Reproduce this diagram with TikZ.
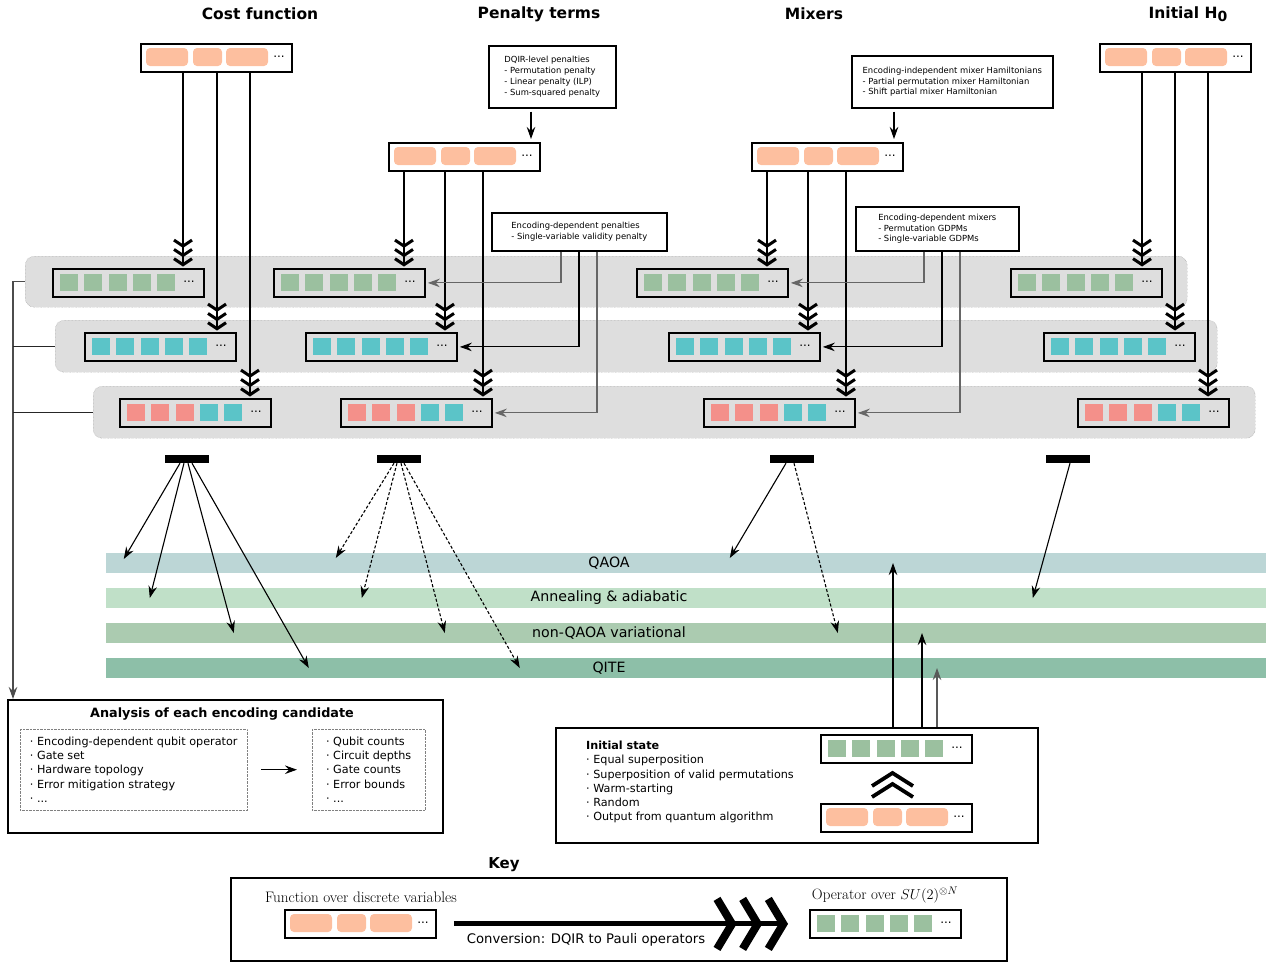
\documentclass[tikz,border=0pt]{standalone}
\usepackage{fontspec}
\setsansfont{DejaVu Sans}
\renewcommand*{\familydefault}{\sfdefault}
\usetikzlibrary{arrows.meta}
\definecolor{orng}{RGB}{253,191,159}
\definecolor{sqgrn}{RGB}{155,192,159}
\definecolor{sqteal}{RGB}{91,196,200}
\definecolor{sqred}{RGB}{244,144,138}
\definecolor{bandgray}{RGB}{222,222,222}
\definecolor{cqaoa}{RGB}{188,214,214}
\definecolor{canneal}{RGB}{192,224,200}
\definecolor{cvar}{RGB}{171,203,176}
\definecolor{cqite}{RGB}{141,191,168}

\tikzset{
  regbox/.style={draw, line width=1.8pt, minimum width=151pt, minimum height=28pt, inner sep=0pt, anchor=north west},
  regdots/.style={font=\fontsize{12}{12}\selectfont, inner sep=0pt},
  grayband/.style={fill=bandgray, draw=black!45, densely dotted, rounded corners=9pt, anchor=north west, minimum width=1162pt, minimum height=51pt, inner sep=0pt},
  algband/.style={minimum width=1160pt, minimum height=20pt, inner sep=0pt},
  algtext/.style={font=\fontsize{14.2}{14}\selectfont},
  txtbox/.style={draw, line width=1.6pt, align=left, font=\fontsize{8.4}{10.8}\selectfont, anchor=north west, inner sep=0pt},
  dotbox/.style={draw=black!50, densely dotted, align=left, font=\fontsize{11.2}{14.3}\selectfont, anchor=north west, inner sep=0pt},
  bigbox/.style={draw, line width=1.8pt, anchor=north west, inner sep=0pt},
  coltitle/.style={font=\fontsize{15.5}{18}\selectfont\bfseries},
  selbar/.style={fill=black, minimum width=44pt, minimum height=8pt, inner sep=0pt},
  arr/.style={line width=1.1pt, -{Stealth[length=12pt,width=8.5pt,inset=4pt]}},
  darr/.style={arr, dash pattern=on 3pt off 2pt},
  chev3/.style={line width=1.3pt, shorten >=1.5pt,
    -{Straight Barb[length=6pt,width=18pt,line width=3pt,sep=0pt]
      Straight Barb[length=6pt,width=18pt,line width=3pt,sep=0pt]
      Straight Barb[length=6pt,width=18pt,line width=3pt]}},
  bigchev/.style={line width=5pt,
    -{Straight Barb[length=15pt,width=50pt,line width=8pt,sep=2pt]
      Straight Barb[length=15pt,width=50pt,line width=8pt,sep=2pt]
      Straight Barb[length=15pt,width=50pt,line width=8pt]}},
}

% registre de qubits : nom, x, y (coin haut gauche), couleurs
\newcommand{\qreg}[4]{%
  \node[regbox] (#1) at (#2,#3) {};
  \foreach \col [count=\i from 0] in {#4}
    {\fill[fill=\col] (#2+8+24.3*\i,#3+6) rectangle ++(18,17);}
  \node[regdots] at (#2+137,#3+14) {...};
}
% fonction DQIR : nom, x, y
\newcommand{\dqir}[3]{%
  \node[regbox] (#1) at (#2,#3) {};
  \fill[orng, rounded corners=4pt] (#2+6,#3+5) rectangle ++(42,18);
  \fill[orng, rounded corners=4pt] (#2+53,#3+5) rectangle ++(29,18);
  \fill[orng, rounded corners=4pt] (#2+86,#3+5) rectangle ++(42,18);
  \node[regdots] at (#2+139,#3+14) {...};
}

\begin{document}
\begin{tikzpicture}[x=1pt, y=-1pt]
	\useasboundingbox (0,0) rectangle (1274,962);

	% titres
	\node[coltitle] at (260,14) {Cost function};
	\node[coltitle] at (539,14) {Penalty terms};
	\node[coltitle] at (814,14) {Mixers};
	\node[coltitle] at (1188,14) {Initial H\raisebox{-3.5pt}{\fontsize{14}{14}\selectfont 0}};

	% bandes grises
	\node[grayband] (b1) at (25,256) {};
	\node[grayband, minimum height=52pt] (b2) at (55,320) {};
	\node[grayband, minimum height=52pt] (b3) at (93,386) {};

	% fonctions
	\dqir{fcost}{140}{43}
	\dqir{fpen}{388}{142}
	\dqir{fmix}{751}{142}
	\dqir{fini}{1099}{43}

	% registres
	\foreach \nm/\x in {cost/52, pen/273, mix/636, ini/1010}
		{\qreg{r1\nm}{\x}{268}{sqgrn,sqgrn,sqgrn,sqgrn,sqgrn}}
	\foreach \nm/\x in {cost/84, pen/305, mix/668, ini/1043}
		{\qreg{r2\nm}{\x}{332}{sqteal,sqteal,sqteal,sqteal,sqteal}}
	\foreach \nm/\x in {cost/119, pen/340, mix/703, ini/1077}
		{\qreg{r3\nm}{\x}{398}{sqred,sqred,sqred,sqteal,sqteal}}

	% boites de texte
	\node[txtbox, minimum width=127pt, minimum height=62pt] (tpen) at (488,45)
		{DQIR-level penalties\\- Permutation penalty\\- Linear penalty (ILP)\\- Sum-squared penalty};
	\node[txtbox, minimum width=201pt, minimum height=52pt] (tmix) at (851,55)
		{Encoding-independent mixer Hamiltonians\\- Partial permutation mixer Hamiltonian\\- Shift partial mixer Hamiltonian};
	\node[txtbox, minimum width=175pt, minimum height=38pt] (tedp) at (491,212)
		{Encoding-dependent penalties\\- Single-variable validity penalty};
	\node[txtbox, minimum width=163pt, minimum height=44pt] (tedm) at (855,206)
		{Encoding-dependent mixers\\- Permutation GDPMs\\- Single-variable GDPMs};

	\draw[arr, shorten <=3pt, shorten >=3pt] ([xshift=43pt]tpen.south west) -- ([xshift=43pt]tpen.south west |- fpen.north);
	\draw[arr, shorten <=3pt, shorten >=3pt] ([xshift=43pt]tmix.south west) -- ([xshift=43pt]tmix.south west |- fmix.north);

	% conversions
	\foreach \f/\dx/\r in {cost/43/r1cost, cost/77/r2cost, cost/110/r3cost,
		pen/16/r1pen, pen/57/r2pen, pen/95/r3pen,
		mix/16/r1mix, mix/57/r2mix, mix/95/r3mix,
		ini/43/r1ini, ini/76/r2ini, ini/109/r3ini}
		\draw[chev3] ([xshift=\dx pt]f\f.south west) -- ([xshift=\dx pt]f\f.south west |- \r.north);

	\foreach \t/\dx/\r/\c in {tedp/70/r1pen/black!60, tedp/88/r2pen/black, tedp/106/r3pen/black!60,
		tedm/69/r1mix/black!60, tedm/87/r2mix/black, tedm/105/r3mix/black!60}
		\draw[arr, \c, shorten >=2pt] ([xshift=\dx pt]\t.south west) |- (\r.east);

	% barres de selection
	\node[selbar] (s1) at (187,459) {};
	\node[selbar] (s2) at (399,459) {};
	\node[selbar] (s3) at (792,459) {};
	\node[selbar] (s4) at (1068,459) {};

	% algorithmes
	\node[algband, fill=cqaoa] (qaoa) at (686,563) {};
	\node[algband, fill=canneal] (anneal) at (686,598) {};
	\node[algband, fill=cvar] (nonq) at (686,633) {};
	\node[algband, fill=cqite] (qite) at (686,668) {};
	\node[algtext] at (609,563) {QAOA};
	\node[algtext] at (609,598) {Annealing \& adiabatic};
	\node[algtext] at (609,633) {non-QAOA variational};
	\node[algtext] at (609,668) {QITE};

	\draw[arr] ([xshift=-7pt]s1.south) -- ([xshift=18pt,yshift=4pt]qaoa.west);
	\draw[arr] ([xshift=-3pt]s1.south) -- ([xshift=44pt]anneal.west);
	\draw[arr] ([xshift=1pt]s1.south) -- ([xshift=128pt]nonq.west);
	\draw[arr] ([xshift=5pt]s1.south) -- ([xshift=203pt]qite.west);

	\draw[darr] ([xshift=-5pt]s2.south) -- ([xshift=230pt,yshift=5pt]qaoa.west);
	\draw[darr] ([xshift=-2pt]s2.south) -- ([xshift=256pt]anneal.west);
	\draw[darr] ([xshift=2pt]s2.south) -- ([xshift=339pt]nonq.west);
	\draw[darr] ([xshift=5pt]s2.south) -- ([xshift=414pt]qite.west);

	\draw[arr] ([xshift=-6pt]s3.south) -- ([xshift=624pt,yshift=5pt]qaoa.west);
	\draw[darr] ([xshift=2pt]s3.south) -- ([xshift=732pt]nonq.west);

	\draw[arr] ([xshift=2pt]s4.south) -- ([xshift=927pt]anneal.west);

	% analyse
	\node[bigbox, minimum width=435pt, minimum height=133pt] (an) at (7,699) {};
	\node[font=\fontsize{12.8}{14}\selectfont\bfseries] at (222,714) {Analysis of each encoding candidate};
	\node[dotbox, minimum width=227pt, minimum height=81pt] (anin) at (20,729)
		{· Encoding-dependent qubit operator\\· Gate set\\· Hardware topology\\· Error mitigation strategy\\· ...};
	\node[dotbox, minimum width=113pt, minimum height=81pt] (anout) at (312,729)
		{· Qubit counts\\· Circuit depths\\· Gate counts\\· Error bounds\\· ...};
	\draw[arr, shorten <=14pt, shorten >=15pt] (anin.east) -- (anout.west);

	\coordinate (brk) at (13,0);
	\draw[arr, black!70] (b1.west) -| (brk |- an.north);
	\draw[line width=1.1pt, black!85] (b2.west) -- (brk |- b2.west);
	\draw[line width=1.1pt, black!85] (b3.west) -- (brk |- b3.west);

	% etat initial
	\node[bigbox, minimum width=482pt, minimum height=115pt] (is) at (555,727) {};
	\node[align=left, anchor=west, inner sep=0pt, font=\fontsize{11.2}{14.2}\selectfont] (istxt) at (586,782)
		{\textbf{Initial state}\\· Equal superposition\\· Superposition of valid permutations\\· Warm-starting\\· Random\\· Output from quantum algorithm};
	\qreg{isq}{820}{734}{sqgrn,sqgrn,sqgrn,sqgrn,sqgrn}
	\dqir{isf}{820}{803}
	\draw[line width=3.8pt] (872,786) -- (892.5,773) -- (913,786);
	\draw[line width=3.8pt] (872,797) -- (892.5,784) -- (913,797);

	\draw[arr] ([xshift=338pt]is.north west) -- ([xshift=338pt]is.north west |- qaoa.center);
	\draw[arr] ([xshift=367pt]is.north west) -- ([xshift=367pt]is.north west |- nonq.center);
	\draw[arr, black!65] ([xshift=382pt]is.north west) -- ([xshift=382pt]is.north west |- qite.center);

	% legende
	\node[font=\fontsize{15}{16}\selectfont\bfseries] at (504,865) {Key};
	\node[bigbox, minimum width=776pt, minimum height=83pt] (key) at (230,877) {};
	\node[font=\rmfamily\fontsize{15.2}{16}\selectfont] at (361,897) {Function over discrete variables};
	\dqir{keyf}{284}{909}
	\node[font=\rmfamily\fontsize{15}{16}\selectfont] at (885,895) {Operator over $SU(2)^{\otimes N}$};
	\qreg{keyq}{809}{909}{sqgrn,sqgrn,sqgrn,sqgrn,sqgrn}
	\draw[bigchev, shorten <=17pt, shorten >=21pt] (keyf.east) -- (keyq.west);
	\node[font=\fontsize{13.2}{14}\selectfont] at (586,940) {Conversion: DQIR to Pauli operators};
\end{tikzpicture}
\end{document}
